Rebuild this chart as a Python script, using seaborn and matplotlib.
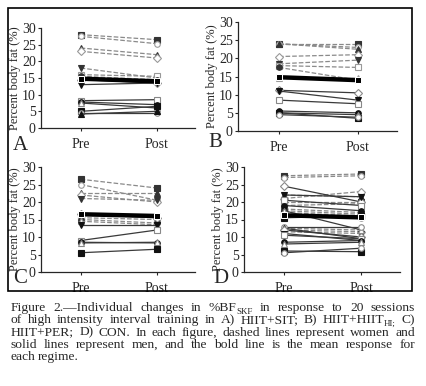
import numpy as np
import pandas as pd
import matplotlib
matplotlib.use("Agg")
import matplotlib.pyplot as plt
import seaborn as sns
from matplotlib.patches import Rectangle

# ---- data (percent body fat) ----
times = ["Pre", "Post"]

A_women_pre = [28.0, 27.5, 24.0, 23.0, 18.0, 16.0, 15.5]
A_women_post = [26.5, 25.3, 22.0, 21.0, 15.0, 15.5, 14.5]
A_men_pre = [14.5, 13.0, 8.2, 7.8, 7.5, 5.0, 4.5, 4.2]
A_men_post = [13.5, 13.5, 8.5, 7.0, 6.0, 6.5, 4.5, 5.0]
A_mean = [14.8, 14.0]

B_women_pre = [24.0, 24.0, 24.0, 20.5, 18.5, 18.0, 17.5, 14.5]
B_women_post = [24.0, 23.0, 22.5, 21.0, 19.5, 17.5, 14.0, 14.5]
B_men_pre = [11.2, 11.0, 8.5, 5.5, 5.0, 5.0, 4.5]
B_men_post = [10.5, 8.5, 7.5, 5.0, 4.5, 3.5, 3.8]
B_mean = [14.8, 14.0]

C_women_pre = [26.5, 25.0, 22.5, 22.0, 21.0, 15.5, 15.0, 14.5]
C_women_post = [24.0, 20.5, 22.5, 20.0, 20.5, 15.0, 14.0, 13.5]
C_men_pre = [16.5, 13.5, 9.0, 8.5, 8.3, 5.5]
C_men_post = [15.5, 13.5, 12.0, 8.3, 8.5, 6.5]
C_mean = [16.5, 16.0]

D_women_pre = [27.5, 27.0, 22.0, 21.0, 20.0, 19.0, 18.0, 17.5, 17.0, 16.5, 12.5, 12.0, 11.5]
D_women_post = [28.0, 27.5, 21.5, 23.0, 20.0, 19.5, 17.0, 16.5, 16.0, 15.5, 12.0, 11.5, 11.0]
D_men_pre = [24.5, 22.0, 20.5, 19.0, 17.5, 15.5, 13.0, 12.5, 12.0, 11.0, 10.5, 8.5, 8.0, 6.0, 5.5]
D_men_post = [20.0, 21.5, 19.0, 17.5, 12.0, 16.0, 13.0, 9.5, 10.0, 9.0, 9.5, 9.0, 8.5, 5.8, 6.8]
D_mean = [16.2, 15.6]

panels = {
    "A": (A_women_pre, A_women_post, A_men_pre, A_men_post, A_mean),
    "B": (B_women_pre, B_women_post, B_men_pre, B_men_post, B_mean),
    "C": (C_women_pre, C_women_post, C_men_pre, C_men_post, C_mean),
    "D": (D_women_pre, D_women_post, D_men_pre, D_men_post, D_mean),
}

# "word|SUB" marks a subscript
caption_lines = [
    "Figure 2.—Individual changes in %BF|SKF in response to 20 sessions",
    "of high intensity interval training in A) HIIT+SIT; B) HIIT+HIIT|HI; C)",
    "HIIT+PER; D) CON. In each figure, dashed lines represent women and",
    "solid lines represent men, and the bold line is the mean response for",
    "each regime.",
]

# ---- layout in pixels ----
W, H = 427, 386
axes_px = {  # left, top(y=30), right, bottom(y=0)
    "A": (41, 28, 195, 128),
    "B": (238, 22, 397, 131),
    "C": (41, 167, 195, 272),
    "D": (244, 167, 400, 272),
}
letter_px = {"A": (13, 150), "B": (208, 147), "C": (13, 283), "D": (213, 283)}


def rect(l, t, r, b):
    return [l / W, 1 - b / H, (r - l) / W, (b - t) / H]


sns.set_style("ticks")
plt.rcParams["font.family"] = ["Liberation Serif", "DejaVu Serif"]

fig = plt.figure(figsize=(W / 100, H / 100), dpi=100)
fig.patches.append(Rectangle((8 / W, 1 - 291 / H), 404 / W, 283 / H,
                             transform=fig.transFigure, fill=False,
                             edgecolor="black", linewidth=1.2))

markers = ["s", "o", "^", "D", "v", "s", "o", "^"]
x = [0, 1]

for key, (wpre, wpost, mpre, mpost, mean) in panels.items():
    ax = fig.add_axes(rect(*axes_px[key]))
    for i, (a, b) in enumerate(zip(wpre, wpost)):
        filled = i % 2 == 0
        sns.lineplot(x=x, y=[a, b], ax=ax, color="#8a8a8a", linestyle="--",
                     linewidth=0.9, marker=markers[i % len(markers)], markersize=4,
                     markerfacecolor="#333333" if filled else "white",
                     markeredgecolor="#333333" if filled else "#999999",
                     markeredgewidth=0.8, estimator=None)
    for i, (a, b) in enumerate(zip(mpre, mpost)):
        filled = i % 2 == 1
        sns.lineplot(x=x, y=[a, b], ax=ax, color="#3a3a3a", linestyle="-",
                     linewidth=0.9, marker=markers[(i + 3) % len(markers)], markersize=4,
                     markerfacecolor="#111111" if filled else "white",
                     markeredgecolor="#111111" if filled else "#888888",
                     markeredgewidth=0.8, estimator=None)
    sns.lineplot(x=x, y=mean, ax=ax, color="black", linewidth=3.2,
                 marker="s", markersize=4.5, estimator=None)

    ax.set_xlim(-0.52, 1.5)
    ax.set_ylim(0, 30)
    ax.set_yticks(np.arange(0, 31, 5))
    ax.set_xticks(x)
    ax.set_xticklabels(times)
    ax.tick_params(axis="both", labelsize=10, length=2.5, width=0.8, pad=1.2, direction="out")
    ax.tick_params(axis="x", pad=5)
    ax.set_ylabel("Percent body fat (%)", fontsize=9, labelpad=0.5)
    ax.set_xlabel("")
    ax.set_facecolor("none")
    sns.despine(ax=ax)
    for s in ("left", "bottom"):
        ax.spines[s].set_linewidth(0.9)
    lx, ly = letter_px[key]
    fig.text(lx / W, 1 - ly / H, key, fontsize=15, ha="left", va="baseline")

# ---- justified caption ----
fig.canvas.draw()
renderer = fig.canvas.get_renderer()
left, right = 11 / W, 415 / W
y0, dy = 311, 12.3
cap_size = 9.7
sub_size = 6.5
for li, line in enumerate(caption_lines):
    y = 1 - (y0 + li * dy) / H
    words = line.split(" ")
    pieces = []  # (main text, sub text or None, width)
    for w in words:
        main, _, sub = w.partition("|")
        tm = fig.text(0, y, main, fontsize=cap_size, ha="left", va="baseline")
        wid = tm.get_window_extent(renderer).width / W
        ts = None
        if sub:
            ts = fig.text(0, y - 2.5 / H, sub, fontsize=sub_size, ha="left", va="baseline")
            wid_main = wid
            wid += ts.get_window_extent(renderer).width / W
        pieces.append((tm, ts, wid))
    if li == len(caption_lines) - 1:
        gap = 2.4 / W
    else:
        gap = max((right - left - sum(p[2] for p in pieces)) / (len(pieces) - 1), 1.5 / W)
    xpos = left
    for tm, ts, wid in pieces:
        tm.set_x(xpos)
        if ts is not None:
            ts.set_x(xpos + tm.get_window_extent(renderer).width / W)
        xpos += wid + gap

fig.savefig("out.png", dpi=100)
